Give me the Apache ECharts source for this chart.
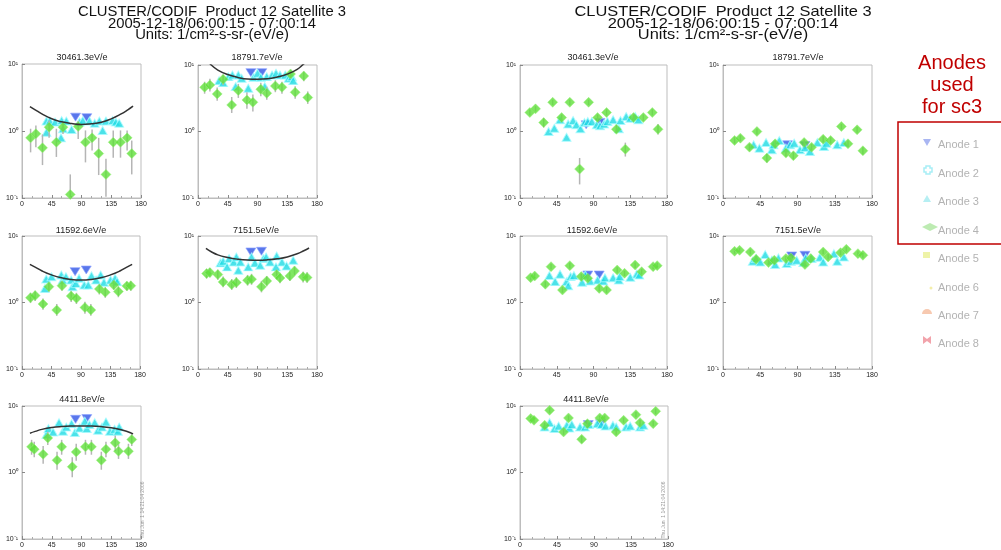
<!DOCTYPE html>
<html><head><meta charset="utf-8">
<script src="https://cdn.jsdelivr.net/npm/echarts@6/dist/echarts.min.js"></script>
<style>html,body{margin:0;padding:0;background:#fff}#c{width:1001px;height:550px}</style>
</head><body><div id="c"></div><script>
// ---------------- DATA ----------------
const mainTitle = ['CLUSTER/CODIF  Product 12 Satellite 3', '2005-12-18/06:00:15 - 07:00:14', 'Units: 1/cm\u00b2-s-sr-(eV/e)'];
const panelTitles = ['30461.3eV/e','18791.7eV/e','11592.6eV/e','7151.5eV/e','4411.8eV/e',
                     '30461.3eV/e','18791.7eV/e','11592.6eV/e','7151.5eV/e','4411.8eV/e'];
const xTicks = [0, 45, 90, 135, 180];
const yTickLabels = ['10\u207b\u00b9', '10\u2070', '10\u00b9'];
const anodeNames = ['Anode 1','Anode 2','Anode 3','Anode 4','Anode 5','Anode 6','Anode 7','Anode 8'];
const sideNote = ['Anodes', 'used', 'for sc3'];
const stamp = 'Thu Jun  1 14:21:04 2006';

const fitX = [12, 20, 30, 45, 60, 75, 90, 105, 120, 135, 150, 160, 168];
const p1Fit = [2.32, 2.07, 1.80, 1.52, 1.37, 1.29, 1.25, 1.28, 1.35, 1.52, 1.80, 2.07, 2.35];
const p2Fit = [12.5, 10, 8.4, 7.2, 6.5, 6.15, 6.1, 6.2, 6.6, 7.3, 8.6, 10.4, 11.8];
const p3Fit = [3.75, 3.4, 3.0, 2.6, 2.35, 2.22, 2.18, 2.22, 2.35, 2.6, 3.0, 3.4, 3.75];
const p4Fit = [6.5, 5.8, 5.2, 4.75, 4.48, 4.35, 4.32, 4.38, 4.55, 4.85, 5.4, 6.0, 6.6];
const p5Fit = [3.9, 4.15, 4.45, 4.75, 4.92, 5.0, 5.02, 5.0, 4.9, 4.7, 4.4, 4.1, 3.8];

// Anode 1 [pitch angle, flux]
const p1A1 = [[81,1.61],[98,1.58]];
const p2A1 = [[80,7.67],[96.5,7.67]];
const p3A1 = [[81,2.91],[98,3.08]];
const p4A1 = [[80,5.75],[96,5.89]];
const p5A1 = [[81,6.31],[98,6.46]];
const p6A1 = [[81,1.26],[98,1.36]];
const p7A1 = [[78,0.631],[99,0.617]];
const p8A1 = [[83,2.59],[97,2.59]];
const p9A1 = [[83,5.01],[99,5.13]];
const p10A1 = [[83,5.25],[98,5.43]];

// Anode 3 [pitch angle, flux]
const p1A3 = [[37,1.41],[42,1.41],[50,1.36],[60,1.43],[62,1.08],[67,1.41],[75,1.05],[87,1.36],[92,1.43],[102,1.41],[110,1.31],[117,1.41],[122,1.02],[127,1.41],[137,1.43],[142,1.36],[147,1.31],[37,0.96],[59,0.79]];
const p2A3 = [[32,5.82],[38,5.43],[46,6.68],[52,7.08],[57,4.73],[61,7.08],[66,6.31],[76,4.47],[84,6.53],[90,7.5],[95,6.53],[101,4.73],[104,6.68],[112,7.08],[118,7.5],[124,7.08],[132,7.08],[137,6.31],[142,6.68],[144,5.82]];
const p3A3 = [[37,2.25],[35,1.63],[45,2.44],[60,2.59],[62,2.18],[67,2.44],[75,2.18],[77,1.73],[82,1.94],[87,2.31],[95,1.83],[101,1.83],[106,2.53],[113,2.18],[120,2.59],[125,2.01],[135,2.18],[142,2.31],[145,2.06]];
const p4A3 = [[34,3.94],[38,4.17],[44,3.43],[47,4.57],[54,4.07],[58,4.84],[61,3.05],[64,4.07],[76,3.43],[81,4.84],[86,3.94],[94,3.63],[99,4.57],[103,4.84],[109,4.07],[118,3.43],[119,5.01],[127,4.07],[134,3.55],[144,4.32]];
const p5A3 = [[37,3.72],[40,4.57],[47,4.07],[56,5.62],[62,4.17],[67,4.84],[75,5.43],[80,3.98],[87,4.68],[95,5.89],[98,4.57],[102,5.25],[110,5.62],[115,4.32],[121,4.84],[127,5.75],[133,4.17],[140,4.47],[145,4.17],[147,4.84]];
const p6A3 = [[35,1.0],[42,1.12],[49,1.5],[57,0.82],[59,1.3],[65,1.46],[69,1.26],[74,1.1],[79,1.36],[83,1.41],[88,1.41],[94,1.26],[98,1.22],[103,1.3],[107,1.41],[114,1.5],[121,1.1],[123,1.46],[130,1.68],[135,1.58],[141,1.68],[145,1.5]];
const p7A3 = [[37,0.631],[44,0.562],[52,0.684],[59,0.531],[61,0.631],[68,0.733],[76,0.562],[81,0.631],[86,0.668],[93,0.531],[99,0.575],[105,0.501],[114,0.684],[122,0.596],[125,0.668],[138,0.631],[146,0.684]];
const p8A3 = [[36,2.54],[43,2.06],[49,2.66],[57,2.06],[59,1.79],[62,2.45],[66,2.54],[76,2.01],[80,2.59],[86,2.11],[95,2.18],[102,2.11],[104,2.36],[114,2.36],[121,2.18],[122,2.45],[135,2.39],[143,2.69],[146,2.59]];
const p9A3 = [[36,4.17],[40,4.57],[45,4.07],[51,5.25],[59,4.32],[63,3.72],[67,4.68],[77,3.85],[82,4.17],[89,4.32],[97,3.98],[100,4.68],[107,4.57],[117,4.79],[121,4.07],[134,5.43],[138,4.17],[146,4.84]];
const p10A3 = [[30,4.84],[36,5.62],[42,4.57],[47,5.01],[57,5.13],[60,4.68],[63,5.25],[73,4.84],[79,4.84],[84,5.25],[94,5.43],[99,5.25],[104,5.01],[113,5.13],[117,4.84],[129,4.84],[134,5.01],[146,4.84],[150,5.13]];

// Anode 4 [pitch angle, flux, low, high]
const p1A4 = [[13,0.79,0.48,1.08],[21,0.91,0.57,1.21],[31,0.56,0.31,0.89],[41,1.14,0.79,1.43],[52,0.68,0.41,1.08],[62,1.14,0.9,1.36],[73,0.113,0.103,0.225],[85,1.17,0.76,1.41],[96,0.68,0.34,1.02],[106,0.79,0.51,1.05],[116,0.46,0.22,0.79],[127,0.225,0.104,0.385],[138,0.68,0.4,1.02],[149,0.68,0.4,1.02],[159,0.79,0.51,1.02],[166,0.46,0.225,0.72]];
const p2A4 = [[10,4.62,3.7,5.6],[18,5.01,4.0,6.2],[29,3.67,2.9,4.6],[38,6.1,5.0,7.2],[51,2.51,1.9,3.3],[61,4.12,3.2,5.2],[74,2.98,2.2,3.9],[83,2.75,2.0,3.6],[95,4.32,3.4,5.4],[104,3.76,3.0,4.7],[117,4.84,3.9,5.9],[127,4.62,3.7,5.6],[140,7.33,6.2,8.5],[147,3.89,3.1,4.8],[160,6.84,5.7,8.0],[166,3.24,2.6,4.0]];
const p3A4 = [[13,1.18,0.98,1.4],[20,1.27,1.05,1.5],[32,0.95,0.78,1.15],[41,1.73,1.45,2.0],[53,0.77,0.63,0.95],[61,1.79,1.5,2.1],[75,1.25,1.02,1.5],[83,1.16,0.95,1.4],[96,0.84,0.68,1.03],[105,0.77,0.63,0.95],[118,1.6,1.32,1.9],[127,1.42,1.18,1.7],[140,1.83,1.55,2.15],[147,1.46,1.2,1.75],[160,1.77,1.5,2.05],[166,1.79,1.5,2.1]];
const p4A4 = [[13,2.72,2.3,3.2],[18,2.82,2.4,3.3],[30,2.63,2.2,3.1],[38,2.04,1.7,2.45],[51,1.86,1.55,2.25],[58,2.0,1.65,2.4],[75,2.16,1.8,2.6],[81,2.24,1.85,2.7],[96,1.72,1.42,2.1],[104,2.11,1.75,2.5],[119,2.63,2.2,3.1],[124,2.34,1.95,2.8],[139,2.51,2.1,3.0],[146,2.98,2.5,3.5],[159,2.43,2.0,2.9],[165,2.37,1.98,2.85]];
const p5A4 = [[14.5,2.43,1.85,3.1],[18.5,2.24,1.7,2.9],[32,1.88,1.35,2.5],[39,3.31,2.6,4.1],[53,1.53,1.1,2.05],[60,2.43,1.85,3.1],[76,1.22,0.85,1.7],[82,2.04,1.5,2.7],[96,2.43,1.85,3.1],[105,2.43,1.85,3.1],[120,1.53,1.1,2.05],[127,2.24,1.7,2.9],[141,2.79,2.1,3.6],[146,2.09,1.6,2.7],[161,2.09,1.6,2.7],[166,3.13,2.5,3.9]];
const p6A4 = [[12,1.93,1.75,2.15],[19,2.19,2.0,2.4],[29,1.36,1.15,1.6],[40,2.75,2.5,3.0],[51,1.62,1.45,1.8],[61,2.75,2.5,3.0],[73,0.272,0.16,0.4],[84,2.75,2.5,3.0],[95,1.62,1.45,1.8],[106,1.93,1.75,2.15],[118,1.08,0.95,1.25],[129,0.543,0.42,0.68],[139,1.62,1.45,1.8],[151,1.62,1.45,1.8],[162,1.93,1.75,2.15],[169,1.08,0.9,1.3]];
const p7A4 = [[14,0.733,0.66,0.82],[21,0.794,0.72,0.88],[32,0.582,0.52,0.65],[41,1.0,0.9,1.1],[53,0.398,0.34,0.46],[63,0.653,0.59,0.73],[76,0.473,0.42,0.53],[85,0.432,0.38,0.49],[98,0.684,0.62,0.76],[107,0.582,0.52,0.65],[121,0.767,0.69,0.85],[130,0.733,0.66,0.82],[143,1.19,1.08,1.3],[151,0.653,0.59,0.73],[162,1.06,0.96,1.17],[169,0.513,0.45,0.58]];
const p8A4 = [[13,2.36,2.15,2.6],[18,2.5,2.3,2.75],[31,1.88,1.7,2.08],[38,3.46,3.15,3.8],[52,1.54,1.4,1.7],[61,3.58,3.25,3.95],[75,2.45,2.2,2.7],[83,2.31,2.1,2.55],[97,1.63,1.48,1.8],[106,1.54,1.4,1.7],[119,3.08,2.8,3.4],[128,2.75,2.5,3.0],[141,3.66,3.3,4.0],[149,2.91,2.65,3.2],[163,3.46,3.15,3.8],[168,3.58,3.25,3.95]];
const p9A4 = [[14,5.89,5.4,6.4],[20,6.1,5.6,6.6],[33,5.75,5.3,6.25],[40,4.47,4.1,4.9],[55,3.98,3.65,4.35],[62,4.32,3.95,4.7],[76,4.57,4.2,5.0],[82,4.68,4.3,5.1],[99,3.72,3.4,4.05],[106,4.57,4.2,5.0],[121,5.75,5.3,6.25],[127,4.84,4.45,5.3],[142,5.62,5.15,6.1],[149,6.31,5.8,6.9],[163,5.43,5.0,5.9],[169,5.13,4.7,5.6]];
const p10A4 = [[13,6.46,5.9,7.1],[17,6.1,5.6,6.7],[30,5.13,4.7,5.6],[36,8.61,7.9,9.4],[53,4.07,3.7,4.45],[59,6.61,6.05,7.2],[75,3.16,2.8,3.55],[82,5.43,4.95,5.95],[97,6.61,6.05,7.2],[103,6.61,6.05,7.2],[117,4.07,3.7,4.45],[126,6.1,5.6,6.7],[141,7.41,6.8,8.1],[146,5.62,5.15,6.15],[162,5.43,4.95,5.95],[165,8.32,7.6,9.1]];

// ---------------- LAYOUT ----------------
const panels = [
  {a1:p1A1, a3:p1A3, a4:p1A4, fit:p1Fit},
  {a1:p2A1, a3:p2A3, a4:p2A4, fit:p2Fit},
  {a1:p3A1, a3:p3A3, a4:p3A4, fit:p3Fit},
  {a1:p4A1, a3:p4A3, a4:p4A4, fit:p4Fit},
  {a1:p5A1, a3:p5A3, a4:p5A4, fit:p5Fit},
  {a1:p6A1, a3:p6A3, a4:p6A4},
  {a1:p7A1, a3:p7A3, a4:p7A4},
  {a1:p8A1, a3:p8A3, a4:p8A4},
  {a1:p9A1, a3:p9A3, a4:p9A4},
  {a1:p10A1, a3:p10A3, a4:p10A4}
];
const gridPos = [
  {left:22, top:64, width:119, height:134},
  {left:198, top:65, width:119, height:133},
  {left:22, top:236, width:118, height:133},
  {left:198, top:236, width:119, height:133},
  {left:22, top:406, width:119, height:133},
  {left:520, top:65, width:147, height:133},
  {left:723, top:65, width:149, height:133},
  {left:520, top:236, width:147, height:133},
  {left:723, top:236, width:149, height:133},
  {left:520, top:406, width:148, height:133}
];
const titlePos = [[82,58],[257,58],[81,231],[256,231],[82,400],[593,58],[798,58],[592,231],[798,231],[586,400]];
const FONT = '"Liberation Sans", Arial, sans-serif';

const grid = [], xAxis = [], yAxis = [], series = [];
panels.forEach((p, i) => {
  grid.push(Object.assign({show:true, borderColor:'#bdbdbd', borderWidth:1, containLabel:false}, gridPos[i]));
  xAxis.push({type:'value', gridIndex:i, min:xTicks[0], max:xTicks[xTicks.length-1], interval:45,
    axisLine:{show:true, lineStyle:{color:'#bdbdbd'}},
    axisTick:{show:true, inside:true, length:3, lineStyle:{color:'#888'}},
    minorTick:{show:true, splitNumber:3, length:2, lineStyle:{color:'#aaa'}},
    splitLine:{show:false},
    axisLabel:{fontSize:7, color:'#222', margin:3, fontFamily:FONT}});
  yAxis.push({type:'log', logBase:10, gridIndex:i, min:0.1, max:10,
    axisLine:{show:true, lineStyle:{color:'#bdbdbd'}},
    axisTick:{show:true, inside:true, length:3, lineStyle:{color:'#888'}},
    minorTick:{show:false},
    splitLine:{show:false},
    axisLabel:{fontSize:7, color:'#222', margin:4, fontFamily:FONT,
      formatter: v => yTickLabels[Math.round(Math.log10(v)) + 1]}});
  series.push({type:'scatter', xAxisIndex:i, yAxisIndex:i, data:p.a1, symbol:'triangle', symbolRotate:180,
    symbolSize:[10,8], itemStyle:{color:'#2f55e6', borderColor:'#8fa4ff', borderWidth:0.8}, z:2, silent:true});
  series.push({type:'scatter', xAxisIndex:i, yAxisIndex:i, data:p.a3, symbol:'triangle',
    symbolSize:[9,8], itemStyle:{color:'#1edbe3', borderColor:'#a6fbff', borderWidth:1}, z:3, silent:true});
  series.push({type:'custom', xAxisIndex:i, yAxisIndex:i, data:p.a4.map(d => [d[0], d[2], d[3]]),
    encode:{x:0, y:[1,2]}, z:4, silent:true,
    renderItem:(params, api) => {
      const a = api.coord([api.value(0), api.value(1)]);
      const b = api.coord([api.value(0), api.value(2)]);
      return {type:'line', shape:{x1:a[0], y1:a[1], x2:b[0], y2:b[1]}, style:{stroke:'#b5b5b5', lineWidth:1.5}};
    }});
  series.push({type:'scatter', xAxisIndex:i, yAxisIndex:i, data:p.a4.map(d => [d[0], d[1]]), symbol:'diamond',
    symbolSize:[10,10], itemStyle:{color:'#5fe03a', borderColor:'#9cf07e', borderWidth:0.6}, z:5, silent:true});
  if (p.fit) {
    series.push({type:'line', xAxisIndex:i, yAxisIndex:i, data:fitX.map((x, k) => [x, p.fit[k]]),
      smooth:true, showSymbol:false, clip:true, lineStyle:{color:'#333', width:1.5}, z:6, silent:true});
  }
});

// ---------------- GRAPHICS ----------------
const graphic = [];
[[212, 1], [723, 1.108]].forEach(([cx, sx]) => {
  mainTitle.forEach((t, k) => {
    graphic.push({type:'text', x:cx, y:12 + k * 11.7, scaleX:sx, originX:0, style:{text:t, x:0, y:0,
      font:'14.8px ' + FONT, fill:'#111', textAlign:'center', textVerticalAlign:'middle'}});
  });
});
panelTitles.forEach((t, i) => {
  graphic.push({type:'text', style:{text:t, x:titlePos[i][0], y:titlePos[i][1], font:'9px ' + FONT,
    fill:'#222', textAlign:'center', textVerticalAlign:'middle'}});
});
[[143, 510], [664, 510]].forEach(([x, y]) => {
  graphic.push({type:'text', x:x, y:y, rotation:Math.PI / 2, style:{text:stamp, x:0, y:0,
    font:'5px ' + FONT, fill:'#999', textAlign:'center', textVerticalAlign:'middle'}});
});
sideNote.forEach((t, k) => {
  graphic.push({type:'text', style:{text:t, x:952, y:63 + k * 22, font:'20px ' + FONT, fill:'#c00000',
    textAlign:'center', textVerticalAlign:'middle'}});
});
graphic.push({type:'rect', shape:{x:898, y:122, width:110, height:122}, style:{fill:'none', stroke:'#c00000', lineWidth:1.5}});
const legY = [145, 174, 202, 231, 259, 288, 316, 344];
anodeNames.forEach((t, k) => {
  graphic.push({type:'text', style:{text:t, x:938, y:legY[k], font:'11px ' + FONT, fill:'#b3b3b3',
    textAlign:'left', textVerticalAlign:'middle'}});
});
// legend markers
graphic.push({type:'polygon', shape:{points:[[923,139],[931,139],[927,146]]}, style:{fill:'#a9b6f2'}});
graphic.push({type:'polygon', shape:{points:[[926,166],[930,166],[930,168],[932,168],[932,172],[930,172],[930,174],[926,174],[926,172],[924,172],[924,168],[926,168]]},
  style:{fill:'#fff', stroke:'#a8eef6', lineWidth:1.5}});
graphic.push({type:'polygon', shape:{points:[[923,202],[931,202],[927,195]]}, style:{fill:'#b6eff3'}});
graphic.push({type:'polygon', shape:{points:[[922,227],[930,223],[938,227],[930,231]]}, style:{fill:'#bdebb2'}});
graphic.push({type:'rect', shape:{x:923, y:252, width:7, height:6}, style:{fill:'#eef3a8'}});
graphic.push({type:'circle', shape:{cx:931, cy:288, r:1.5}, style:{fill:'#f3eeaa'}});
graphic.push({type:'sector', shape:{cx:927, cy:314, r:5, startAngle:Math.PI, endAngle:Math.PI * 2}, style:{fill:'#f7c9b0'}});
graphic.push({type:'polygon', shape:{points:[[923,336],[927,339],[931,336],[931,344],[927,341],[923,344]]}, style:{fill:'#f2a3ab'}});

const chart = echarts.init(document.getElementById('c'), null, {renderer:'canvas'});
chart.setOption({animation:false, backgroundColor:'#fff', textStyle:{fontFamily:FONT},
  grid, xAxis, yAxis, series, graphic});
</script></body></html>
